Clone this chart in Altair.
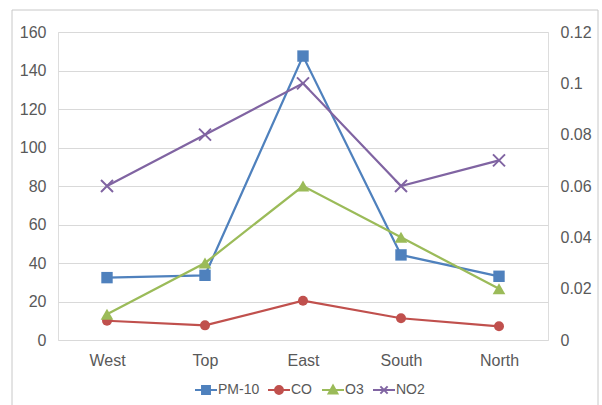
import altair as alt
import pandas as pd

categories = ["West", "Top", "East", "South", "North"]
series = ["PM-10", "CO", "O3", "NO2"]
pm10 = [32.4, 33.6, 147.5, 44.2, 33.1]
co = [10.0, 7.6, 20.4, 11.3, 7.1]
o3 = [0.01, 0.03, 0.06, 0.04, 0.02]
no2 = [0.06, 0.08, 0.10, 0.06, 0.07]
left_ticks = [0, 20, 40, 60, 80, 100, 120, 140, 160]
right_ticks = [0, 0.02, 0.04, 0.06, 0.08, 0.10, 0.12]

colors = ["#4F81BD", "#C0504D", "#9BBB59", "#8064A2"]

rows = []
for name, vals in zip(series, [pm10, co, o3, no2]):
    for c, v in zip(categories, vals):
        rows.append({"cat": c, "series": name, "value": v})
df = pd.DataFrame(rows)
legend_df = pd.DataFrame({"series": series, "idx": list(range(len(series)))})

FONT = "Liberation Sans"
GRAY = "#595959"

xenc = alt.X("cat:N", sort=categories, scale=alt.Scale(padding=0.5),
             axis=alt.Axis(title=None, domain=False, ticks=False, labelFontSize=16,
                           labelColor=GRAY, labelPadding=12, labelAngle=0, labelFont=FONT))

yleft = alt.Y("value:Q", scale=alt.Scale(domain=[0, 160], nice=False),
              axis=alt.Axis(title=None, orient="left", values=left_ticks, domain=False, ticks=False,
                            labelFontSize=16, labelColor=GRAY, labelPadding=12, labelFont=FONT,
                            grid=True, gridColor="#d9d9d9", gridWidth=1))
yright = alt.Y("value:Q", scale=alt.Scale(domain=[0, 0.12], nice=False),
               axis=alt.Axis(title=None, orient="right", values=right_ticks, domain=False, ticks=False,
                             labelFontSize=16, labelColor=GRAY, labelPadding=12, labelFont=FONT,
                             labelExpr="datum.value == 0 ? '0' : format(datum.value, '.2~f')",
                             grid=False))

colscale = alt.Scale(domain=series, range=colors)
base = alt.Chart(df)

def line(names, y):
    return base.transform_filter(alt.FieldOneOfPredicate(field="series", oneOf=names)).mark_line(
        strokeWidth=2.25).encode(x=xenc, y=y, color=alt.Color("series:N", scale=colscale, legend=None),
                                 detail="series:N")

def pts(name, y, shape, size, color, filled=True):
    return base.transform_filter(alt.datum.series == name).mark_point(
        shape=shape, size=size, filled=filled, color=color, opacity=1,
        strokeWidth=2 if not filled else 1).encode(x=xenc, y=y)

left = alt.layer(
    line(["PM-10", "CO"], yleft),
    pts("PM-10", yleft, "square", 130, colors[0]),
    pts("CO", yleft, "circle", 100, colors[1]),
)
right = alt.layer(
    line(["O3", "NO2"], yright),
    pts("O3", yright, "triangle-up", 160, colors[2]),
    pts("NO2", yright, "M-1,-1L1,1M-1,1L1,-1", 144, colors[3], filled=False),
)
main = alt.layer(left, right).resolve_scale(y="independent")

# legend drawn as marks: a line-with-marker glyph and a label per series
legend_paths = [
    "M-1,0H1M-0.36,-0.36H0.36V0.36H-0.36Z",
    "M-1,0H1M0.36,0A0.36,0.36,0,1,1,-0.36,0A0.36,0.36,0,1,1,0.36,0Z",
    "M-1,0H1M0,-0.4L0.4,0.32H-0.4Z",
    "M-1,0H1M-0.33,-0.33L0.33,0.33M-0.33,0.33L0.33,-0.33",
]
legend_x = alt.X("idx:Q", axis=None,
                 scale=alt.Scale(domain=[0, 1, 2, 3], range=[148, 221, 275, 326], zero=False, nice=False))
legend_glyph = alt.Chart(legend_df).mark_point(filled=True, size=484, strokeWidth=2, opacity=1).encode(
    x=legend_x,
    y=alt.value(358),
    shape=alt.Shape("series:N", scale=alt.Scale(domain=series, range=legend_paths), legend=None),
    fill=alt.Fill("series:N", scale=colscale, legend=None),
    stroke=alt.Stroke("series:N", scale=colscale, legend=None),
)
legend_text = alt.Chart(legend_df).mark_text(align="left", baseline="middle", dx=12, fontSize=14,
                                              font=FONT, color=GRAY).encode(
    x=legend_x, y=alt.value(358), text="series:N")

border = alt.Chart(pd.DataFrame({"a": [0]})).mark_rect(fill=None, stroke="#c8c8c8", strokeWidth=1).encode(
    x=alt.value(-46), x2=alt.value(540), y=alt.value(-22), y2=alt.value(378))

chart = alt.layer(border, main, legend_glyph + legend_text).resolve_scale(
    x="independent"
).properties(
    width=490, height=308,
    autosize=alt.AutoSizeParams(type="none"),
    padding={"left": 58, "top": 32, "right": 54, "bottom": 65},
).configure_view(stroke=None).configure(background="white")

chart.save("out.html", embed_options={"renderer": "svg", "actions": False})
